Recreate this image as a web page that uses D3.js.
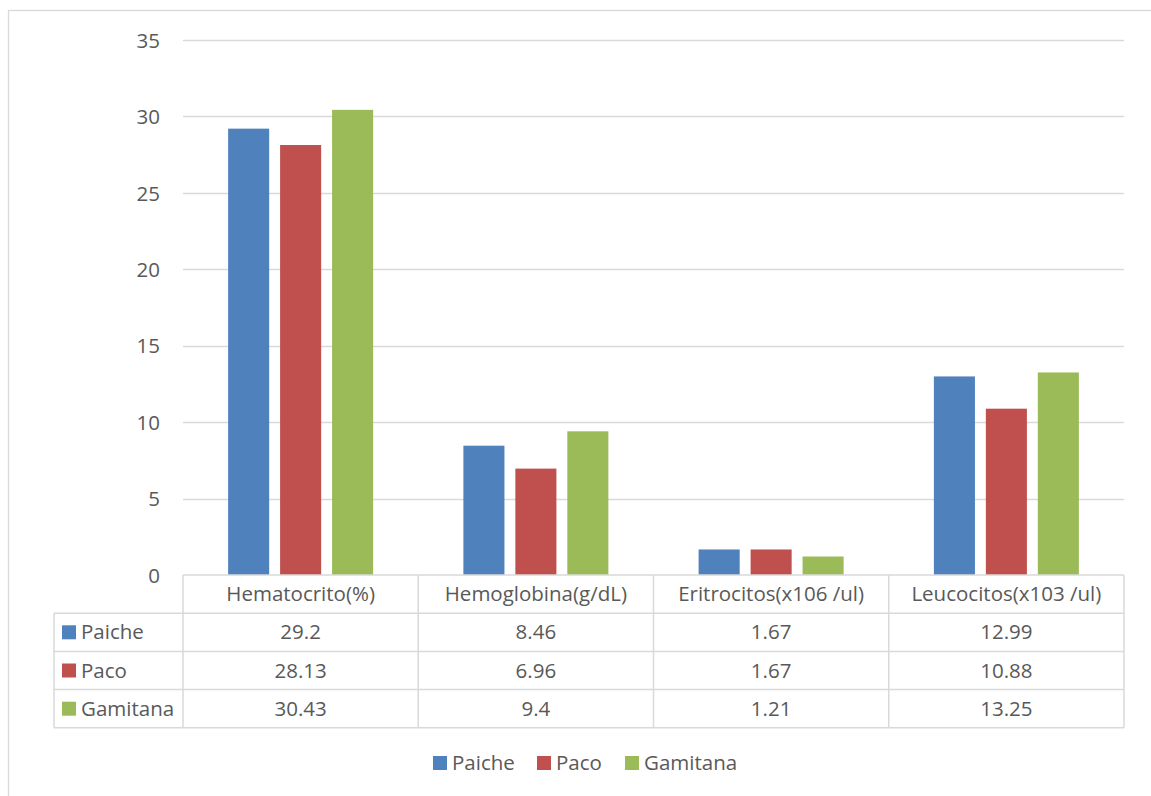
<!DOCTYPE html>
<html>
<head>
<meta charset="utf-8">
<script src="https://cdn.jsdelivr.net/npm/d3@7"></script>
<style>
  html, body { margin: 0; padding: 0; background: #fff; }
  svg { display: block; }
  text { font-family: "Open Sans", sans-serif; fill: #595959; }
</style>
</head>
<body>
<svg id="chart" width="1151" height="796"></svg>
<script>
// Blood parameters by species
const categories = ["Hematocrito(%)", "Hemoglobina(g/dL)", "Eritrocitos(x106 /ul)", "Leucocitos(x103 /ul)"];
const seriesNames = ["Paiche", "Paco", "Gamitana"];
const paiche = [29.2, 8.46, 1.67, 12.99];
const paco = [28.13, 6.96, 1.67, 10.88];
const gamitana = [30.43, 9.4, 1.21, 13.25];
const yTicks = [0, 5, 10, 15, 20, 25, 30, 35];
const colors = ["#4F81BD", "#C0504D", "#9BBB59"];

const series = [paiche, paco, gamitana];
const svg = d3.select("#chart");
const grid = "#d9d9d9";
const fontSize = "20.5px";

const plot = { left: 183, right: 1124, top: 40, bottom: 575 };
const rowH = 38.2;
const tableLeft = 54;

// outer chart frame
svg.append("rect").attr("x", 8.5).attr("y", 10.5).attr("width", 1160).attr("height", 800)
  .attr("fill", "none").attr("stroke", grid).attr("stroke-width", 1.3);

const x = d3.scaleBand().domain(categories).range([plot.left, plot.right]);
const y = d3.scaleLinear().domain([0, 35]).range([plot.bottom, plot.top]);
const inner = d3.scaleBand().domain(seriesNames).range([-72.5, 72.5]).paddingInner(0.21).paddingOuter(0);

// gridlines
svg.append("g").selectAll("line").data(yTicks.filter(d => d > 0)).join("line")
  .attr("x1", plot.left).attr("x2", plot.right)
  .attr("y1", d => Math.round(y(d)) + 0.5).attr("y2", d => Math.round(y(d)) + 0.5)
  .attr("stroke", grid).attr("stroke-width", 1.3);

// y axis labels
const yAxis = d3.axisLeft(y).tickValues(yTicks).tickSize(0).tickPadding(0);
const ga = svg.append("g").attr("transform", `translate(${160},0)`).call(yAxis);
ga.select(".domain").remove();
ga.selectAll("text").style("font-size", fontSize).attr("fill", "#595959")
  .style("font-family", "'Open Sans', sans-serif").attr("dy", "0.35em");

// bars
const groups = svg.append("g").selectAll("g").data(categories).join("g")
  .attr("transform", d => `translate(${x(d) + x.bandwidth() / 2},0)`);
groups.selectAll("rect").data((c, i) => seriesNames.map((s, j) => ({ s, v: series[j][i], j })))
  .join("rect")
  .attr("x", d => inner(d.s))
  .attr("width", inner.bandwidth())
  .attr("y", d => y(d.v))
  .attr("height", d => y(0) - y(d.v))
  .attr("fill", d => colors[d.j]);

// data table
const tbl = svg.append("g");
const lines = [];
lines.push([plot.left, plot.bottom, plot.right, plot.bottom]);
for (let r = 1; r <= 4; r++) {
  const yy = plot.bottom + r * rowH;
  lines.push([tableLeft, yy, plot.right, yy]);
}
const bottomY = plot.bottom + 4 * rowH;
lines.push([tableLeft, plot.bottom + rowH, tableLeft, bottomY]);
categories.forEach(c => lines.push([x(c), plot.bottom, x(c), bottomY]));
lines.push([plot.right, plot.bottom, plot.right, bottomY]);
tbl.selectAll("line").data(lines).join("line")
  .attr("x1", d => d[0]).attr("y1", d => d[1]).attr("x2", d => d[2]).attr("y2", d => d[3])
  .attr("stroke", grid).attr("stroke-width", 1.5);

// header labels
tbl.selectAll("text.hdr").data(categories).join("text").attr("class", "hdr")
  .attr("x", d => x(d) + x.bandwidth() / 2)
  .attr("y", plot.bottom + rowH / 2).attr("dy", "0.35em")
  .attr("text-anchor", "middle").style("font-size", fontSize).text(d => d);

// row labels with swatches
seriesNames.forEach((s, j) => {
  const cy = plot.bottom + rowH * (j + 1) + rowH / 2;
  tbl.append("rect").attr("x", 62).attr("y", cy - 7).attr("width", 14).attr("height", 14).attr("fill", colors[j]);
  tbl.append("text").attr("x", 81).attr("y", cy).attr("dy", "0.35em")
    .style("font-size", fontSize).text(s);
  tbl.selectAll(null).data(categories).join("text")
    .attr("x", d => x(d) + x.bandwidth() / 2).attr("y", cy).attr("dy", "0.35em")
    .attr("text-anchor", "middle").style("font-size", fontSize)
    .text((d, i) => String(series[j][i]));
});

// legend
const legX = [433, 537, 625];
const leg = svg.append("g");
seriesNames.forEach((s, j) => {
  leg.append("rect").attr("x", legX[j]).attr("y", 756).attr("width", 14).attr("height", 14).attr("fill", colors[j]);
  leg.append("text").attr("x", legX[j] + 19).attr("y", 763).attr("dy", "0.35em")
    .style("font-size", fontSize).text(s);
});
</script>
</body>
</html>
